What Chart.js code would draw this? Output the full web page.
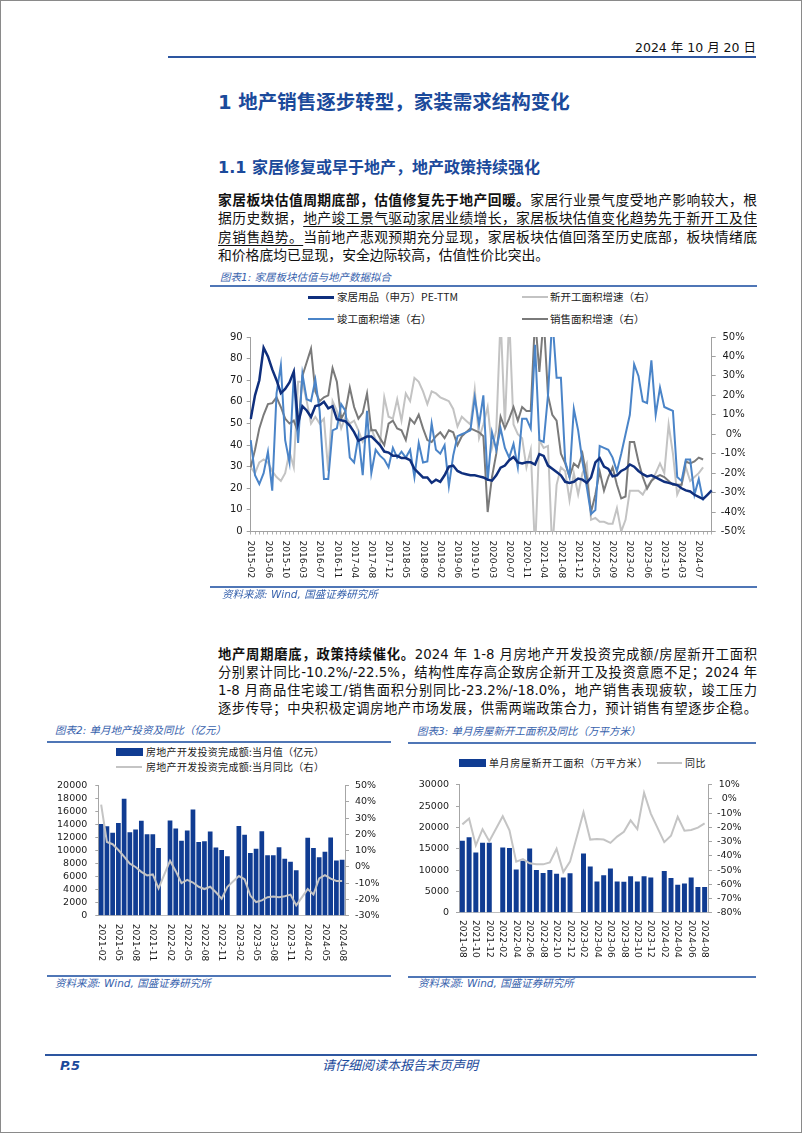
<!DOCTYPE html>
<html>
<head>
<meta charset="utf-8">
<script src="https://cdn.jsdelivr.net/npm/chart.js@4.4.1/dist/chart.umd.min.js"></script>
<style>
body{margin:0;background:#fff;}
#page{position:relative;width:802px;height:1133px;overflow:hidden;background:#fff;
  font-family:"DejaVu Sans","Noto Sans CJK SC",sans-serif;color:#111;}
#frame{position:absolute;left:0;top:0;width:802px;height:1133px;box-sizing:border-box;border:1px solid #8a8a8a;}
.t{position:absolute;white-space:nowrap;}
.blue{color:#1b4a9b;}
.cap{font-style:italic;font-size:10.5px;line-height:14px;color:#3762ad;}
.rule{position:absolute;background:#4f76b6;height:1.5px;}
.p{position:absolute;left:218px;width:539px;font-size:13.8px;text-align:justify;text-align-last:justify;overflow:hidden;}
.p.nj{text-align-last:left;}
.p1{line-height:19px;height:19px;}
.p2{line-height:18px;height:18px;font-size:13.3px;}
.u{text-decoration:underline;text-underline-offset:3px;text-decoration-thickness:1px;}
.lg{position:absolute;white-space:nowrap;font-size:10px;line-height:14px;color:#222;font-family:"Noto Sans CJK SC","DejaVu Sans",sans-serif;}
.sw{position:absolute;}
.box{position:absolute;}
</style>
</head>
<body>
<div id="page">
  <div id="frame"></div>

  <div class="t" style="left:596px;width:160px;text-align:right;top:39px;line-height:18px;font-size:12.5px;color:#111;">2024 年 10 月 20 日</div>
  <div class="rule" style="left:168px;top:56px;width:588px;height:2px;background:#2d56a0;"></div>

  <div class="t blue" style="left:218px;top:90px;line-height:26px;font-size:19.5px;font-weight:bold;">1 地产销售逐步转型，家装需求结构变化</div>
  <div class="t blue" style="left:218px;top:157px;line-height:22px;font-size:16px;font-weight:bold;">1.1 家居修复或早于地产，地产政策持续强化</div>

  <div class="p p1" style="top:190.5px;"><b>家居板块估值周期底部，估值修复先于地产回暖。</b>家居行业景气度受地产影响较大，根</div>
  <div class="p p1" style="top:209px;">据历史数据，<span class="u">地产竣工景气驱动家居业绩增长，家居板块估值变化趋势先于新开工及住</span></div>
  <div class="p p1" style="top:227.5px;"><span class="u">房销售趋势。</span>当前地产悲观预期充分显现，家居板块估值回落至历史底部，板块情绪底</div>
  <div class="p p1 nj" style="top:246px;">和价格底均已显现，安全边际较高，估值性价比突出。</div>

  <div class="t cap" style="left:220px;top:270px;">图表1: 家居板块估值与地产数据拟合</div>
  <div class="rule" style="left:210px;top:285px;width:547px;"></div>

  <div class="sw" style="left:308px;top:296px;width:26px;height:2.5px;background:#0f2f7d;"></div>
  <div class="lg" style="left:337px;top:290px;font-size:10.5px;">家居用品（申万）PE-TTM</div>
  <div class="sw" style="left:522px;top:296px;width:26px;height:2px;background:#c3c3c3;"></div>
  <div class="lg" style="left:550px;top:290px;font-size:10.5px;">新开工面积增速（右）</div>
  <div class="sw" style="left:308px;top:318px;width:26px;height:2px;background:#4a84c8;"></div>
  <div class="lg" style="left:337px;top:312px;font-size:10.5px;">竣工面积增速（右）</div>
  <div class="sw" style="left:522px;top:318px;width:26px;height:2px;background:#7a7a7a;"></div>
  <div class="lg" style="left:550px;top:312px;font-size:10.5px;">销售面积增速（右）</div>

  <div class="box" style="left:212px;top:326px;width:545px;height:262px;"><canvas id="c1"></canvas></div>

  <div class="rule" style="left:210px;top:586px;width:547px;"></div>
  <div class="t cap" style="left:222px;top:587px;">资料来源: Wind, 国盛证券研究所</div>

  <div class="p p2" style="top:646px;"><b>地产周期磨底，政策持续催化。</b>2024 年 1-8 月房地产开发投资完成额/房屋新开工面积</div>
  <div class="p p2" style="top:664px;">分别累计同比-10.2%/-22.5%，结构性库存高企致房企新开工及投资意愿不足；2024 年</div>
  <div class="p p2" style="top:682px;">1-8 月商品住宅竣工/销售面积分别同比-23.2%/-18.0%，地产销售表现疲软，竣工压力</div>
  <div class="p p2" style="top:700px;">逐步传导；中央积极定调房地产市场发展，供需两端政策合力，预计销售有望逐步企稳。</div>

  <div class="t cap" style="left:55px;top:723px;">图表2: 单月地产投资及同比（亿元）</div>
  <div class="rule" style="left:47px;top:741px;width:344px;"></div>
  <div class="sw" style="left:116px;top:748px;width:27px;height:8px;background:#103c92;"></div>
  <div class="lg" style="left:146px;top:745px;letter-spacing:0.3px;">房地产开发投资完成额:当月值（亿元）</div>
  <div class="sw" style="left:116px;top:766px;width:26px;height:2px;background:#c4c4c4;"></div>
  <div class="lg" style="left:146px;top:760px;letter-spacing:0.3px;">房地产开发投资完成额:当月同比（右）</div>
  <div class="box" style="left:50px;top:772px;width:340px;height:200px;"><canvas id="c2"></canvas></div>
  <div class="rule" style="left:47px;top:975px;width:344px;"></div>
  <div class="t cap" style="left:55px;top:976px;">资料来源: Wind, 国盛证券研究所</div>

  <div class="t cap" style="left:417px;top:724px;">图表3: 单月房屋新开工面积及同比（万平方米）</div>
  <div class="rule" style="left:408px;top:742px;width:348px;"></div>
  <div class="sw" style="left:459px;top:759px;width:27px;height:8px;background:#103c92;"></div>
  <div class="lg" style="left:489px;top:756px;letter-spacing:0.6px;">单月房屋新开工面积（万平方米）</div>
  <div class="sw" style="left:657px;top:762px;width:25px;height:2px;background:#c4c4c4;"></div>
  <div class="lg" style="left:685px;top:756px;letter-spacing:0.6px;">同比</div>
  <div class="box" style="left:410px;top:772px;width:347px;height:200px;"><canvas id="c3"></canvas></div>
  <div class="rule" style="left:408px;top:976px;width:348px;"></div>
  <div class="t cap" style="left:418px;top:976px;">资料来源: Wind, 国盛证券研究所</div>

  <div class="rule" style="left:45px;top:1054px;width:712px;height:2px;background:#2d56a0;"></div>
  <div class="t blue" style="left:60px;top:1057px;line-height:18px;font-size:13px;font-weight:bold;font-style:italic;">P.5</div>
  <div class="t blue" style="left:300px;width:200px;text-align:center;top:1057px;line-height:18px;font-size:13px;font-style:italic;">请仔细阅读本报告末页声明</div>
</div>

<script>
// months, optionally without January (chart 1 skips it)
function months(y0, m0, y1, m1, skipJan) {
    let out = [];
    let y = y0, m = m0;
    while (y < y1 || (y == y1 && m <= m1)) {
        if (!(skipJan && m == 1)) out.push(y + "-" + (m < 10 ? "0" + m : m));
        m++;
        if (m > 12) { m = 1; y++; }
    }
    return out;
}

// chart 1: 2015-02 .. 2024-10, January not reported
let cats1 = months(2015, 2, 2024, 10, true);
let pe = [52,63,70,85,81,75,70,64,66,69, 74,50,58,56,53,58,58.5,60,57,58,
    52,51.5,51,49,46,42,43,44,44,42, 40,37,36.5,35,35,34,34,33,29,27,
    25,25,22.5,24,23,26,30,30.5,28,27, 26.5,26,26,25.5,25,24,23.5,26,29.5,30.5,
    33,34.5,32,31.5,32,32,31,35.8,35,30.5, 29,27.5,26,23,22.5,23,24.5,24,22.5,25,
    32,34,30,29,25.5,26,28,29,31,30, 28,26.5,25.5,26,25,24,23,22.5,22,21.5,
    20,19,18.5,17,16,15,17,19];
let newStart = [-17,-20,-14.5,-13,-14.5,-19,-22,-24,-20,-9, -17,27,27,17,5.5,9,5.5,8,-19,17,
    12,3,9,5.5,7,2,-4,-1,3,-3, -5.6,19,9,8,18,7,21,17,29,27,
    22,15.5,22,21,19,18,17,13,4,9, 7,5,23,-2,5,14,-7,2,60,5,
    60,5,0,-2,-17,-8,-60,-3,-7,-6, -60,-26,-17,-19,-34,-20,-31,-20,-15,-44,
    -43,-45,-45,-46,-46,-38,-50,-44,-29,-29, -29,-31,-27,-24,-20,-15,-20,5,-10,-31,
    -26,-17,-24,-22,-20,-17];
let completed = [-3,-21,-25.6,-20,-9,-29,21,35.5,-3,-14.5, 31,-4.5,31,18,17,28,12,-23,-23,2,
    3,15.5,12,-12,-14.5,-1,-21,12,-20,-8, -11,-13,-17,-7,-12,-9,-12,-8,-22,-4.5,
    -14.5,-14,5.5,-8,-10,-5.6,-26.7,-11,-1,0, 1,2,19,5,20,-24,1,-8,3,-7,
    -12,-5,-17,8,8,3,46,-3,-4,20, 60,29,29,-14,-22,13,2,-14,-27,-41,
    -39,-6,-7,-8,-12,-19,-10,0,10,36, 30,17,16,38,10,24,14,13,12,-22,
    -24,-13,-13,-31,-23,-34];
let sales = [-17,-8,3,10,15.5,16,19,14,8,5.5, 7,1,30,37,44,22,17,19,20,34,
    27,8,12,24,14,8,11,21,2,2, -2,-5.6,5.5,7,3,2,-3,8,5.5,10,
    3,-3,-4,-1,1,-2,2,1,-5.6,-1, 1,3,2,1,-1,-40,-22,-10,9,3,
    8,14,7,14,12,12,60,32,60,20, 10,7,-10,-15,-22,-15,-17,-10,-22,-40,
    -31,-19,-29,-22,-17,-26,-33,-32,-4,-4, -14,-22,-28,-24,-22,-21,-22,-24,-26,-26,
    -26,-14,-15,-14,-12,-13];

// chart 2: 2021-02 .. 2024-08, January empty
let cats2 = months(2021, 2, 2024, 8, false);
let invest = [14100,13750,12750,14250,18000,12850,13250,14600,12550,12550,10400,null,
    14650,13400,11550,13100,16350,11350,11450,12950,10500,10100,9150,null,
    13800,12450,9650,10300,13000,9300,9300,10550,8750,8300,7000,null,
    12000,10400,9000,9850,12050,8500,8600];
let investYoy = [38.4,15.4,14,10.4,6.4,2,0,-3,-5.2,-4.6,-13.2,null,
    3.8,-2.6,-10,-8,-9.6,-12.2,-13.6,-12.2,-15.6,-19.6,-12.2,null,
    -5.6,-7.6,-17.6,-21.6,-20.6,-18.6,-18.2,-18.6,-18,-17,-23.6,null,
    -13.6,-17,-7,-5,-7.2,-8.6,-8.6];

// chart 3: 2021-08 .. 2024-08, January empty
let cats3 = months(2021, 8, 2024, 8, false);
let starts = [16860,17700,14100,16400,16400,null,
    15260,15180,10150,12200,15030,10000,9300,10000,9150,8240,9230,null,
    13890,10830,7320,8770,10380,7320,7250,8550,7320,8550,8240,null,
    9770,8160,6560,6870,8240,6030,6030];
let startsYoy = [-17.9,-13.8,-32.7,-21.3,-29.7,null,
    -12.2,-22,-44.1,-42.3,-45.3,-46,-46,-44.6,-35,-51.4,-44.1,null,
    -9.4,-28.6,-28.1,-28.6,-30.9,-26.5,-23.1,-15.1,-21.3,4.3,-10.3,null,
    -30.4,-25.9,-12.6,-22.4,-21.8,-20.2,-17.2];

Chart.defaults.font.family = "DejaVu Sans";
Chart.defaults.color = "#1a1a1a";
Chart.defaults.animation = false;

// x labels read top-to-bottom, as in the excel original
const sideLabels = {
    id: "sideLabels",
    afterDraw(chart, args, opts) {
        const sc = chart.scales.x;
        const ctx = chart.ctx;
        ctx.save();
        ctx.font = opts.size + "px DejaVu Sans";
        ctx.fillStyle = "#1a1a1a";
        ctx.textAlign = "left";
        ctx.textBaseline = "middle";
        chart.data.labels.forEach((lab, i) => {
            if (i % opts.every != 0) return;
            ctx.save();
            ctx.translate(sc.getPixelForValue(i), sc.top + opts.gap);
            ctx.rotate(Math.PI / 2);
            ctx.fillText(lab, 0, 0);
            ctx.restore();
        });
        ctx.restore();
    }
};

function yAxis(pos, min, max, step, width, opts) {
    return {
        position: pos, min: min, max: max,
        afterFit: (s) => { s.width = width; },
        grid: { drawOnChartArea: false, tickLength: opts.tick, color: opts.color },
        border: { color: opts.color },
        ticks: {
            stepSize: step, autoSkip: false, padding: opts.pad, crossAlign: opts.align || "near",
            font: { size: opts.size },
            callback: opts.pct ? (v) => v + "%" : (v) => v
        }
    };
}

new Chart(document.getElementById("c1"), {
    type: "line",
    data: {
        labels: cats1,
        datasets: [
            { label: "家居用品（申万）PE-TTM", data: pe, yAxisID: "y", borderColor: "#0f2f7d", borderWidth: 2.5 },
            { label: "竣工面积增速（右）", data: completed, yAxisID: "y1", borderColor: "#4a84c8", borderWidth: 2 },
            { label: "销售面积增速（右）", data: sales, yAxisID: "y1", borderColor: "#7a7a7a", borderWidth: 2 },
            { label: "新开工面积增速（右）", data: newStart, yAxisID: "y1", borderColor: "#c3c3c3", borderWidth: 2 }
        ]
    },
    options: {
        responsive: true, maintainAspectRatio: false, events: [],
        layout: { padding: { top: 10, right: 12, left: 0, bottom: 0 } },
        elements: { point: { radius: 0 }, line: { tension: 0 } },
        plugins: { legend: { display: false }, tooltip: { enabled: false },
            sideLabels: { every: 4, gap: 9, size: 9 } },
        scales: {
            x: {
                afterFit: (s) => { s.height = 56.5; },
                grid: { drawOnChartArea: false, tickLength: 3, color: "#b0b0b0" },
                border: { color: "#a0a0a0" },
                ticks: { display: false }
            },
            y: yAxis("left", 0, 90, 10, 38.7, { tick: 4, pad: 4, size: 10, color: "#a0a0a0" }),
            y1: yAxis("right", -50, 50, 10, 33.3, { tick: 4, pad: 5, size: 10, color: "#a0a0a0", align: "center", pct: true })
        }
    },
    plugins: [sideLabels]
});

new Chart(document.getElementById("c2"), {
    type: "bar",
    data: {
        labels: cats2,
        datasets: [
            { type: "line", label: "房地产开发投资完成额:当月同比（右）", data: investYoy, yAxisID: "y1",
              borderColor: "#c4c4c4", borderWidth: 2, spanGaps: true, order: 0 },
            { label: "房地产开发投资完成额:当月值（亿元）", data: invest, yAxisID: "y",
              backgroundColor: "#103c92", categoryPercentage: 1, barPercentage: 0.82, order: 1 }
        ]
    },
    options: {
        responsive: true, maintainAspectRatio: false, events: [],
        layout: { padding: { top: 10, right: 0, left: 0, bottom: 0 } },
        elements: { point: { radius: 0 }, line: { tension: 0 } },
        plugins: { legend: { display: false }, tooltip: { enabled: false },
            sideLabels: { every: 3, gap: 8, size: 9 } },
        scales: {
            x: {
                afterFit: (s) => { s.height = 56.3; },
                grid: { display: false },
                border: { color: "#bfbfbf" },
                ticks: { display: false }
            },
            y: yAxis("left", 0, 20000, 2000, 48.3, { tick: 3, pad: 8, size: 9.5, color: "#a6a6a6" }),
            y1: yAxis("right", -30, 50, 10, 45, { tick: 4, pad: 6, size: 9.5, color: "#a6a6a6", pct: true })
        }
    },
    plugins: [sideLabels]
});

new Chart(document.getElementById("c3"), {
    type: "bar",
    data: {
        labels: cats3,
        datasets: [
            { type: "line", label: "同比", data: startsYoy, yAxisID: "y1",
              borderColor: "#c4c4c4", borderWidth: 2, spanGaps: true, order: 0 },
            { label: "单月房屋新开工面积（万平方米）", data: starts, yAxisID: "y",
              backgroundColor: "#103c92", categoryPercentage: 1, barPercentage: 0.74, order: 1 }
        ]
    },
    options: {
        responsive: true, maintainAspectRatio: false, events: [],
        layout: { padding: { top: 9.7, right: 0, left: 0, bottom: 0 } },
        elements: { point: { radius: 0 }, line: { tension: 0 } },
        plugins: { legend: { display: false }, tooltip: { enabled: false },
            sideLabels: { every: 2, gap: 7.3, size: 9 } },
        scales: {
            x: {
                afterFit: (s) => { s.height = 59.3; },
                grid: { display: false },
                border: { color: "#bfbfbf" },
                ticks: { display: false }
            },
            y: yAxis("left", 0, 30000, 5000, 49, { tick: 3, pad: 7, size: 9.5, color: "#a6a6a6" }),
            y1: yAxis("right", -80, 10, 10, 49, { tick: 4, pad: 5, size: 9.5, color: "#a6a6a6", align: "center", pct: true })
        }
    },
    plugins: [sideLabels]
});
</script>
</body>
</html>
